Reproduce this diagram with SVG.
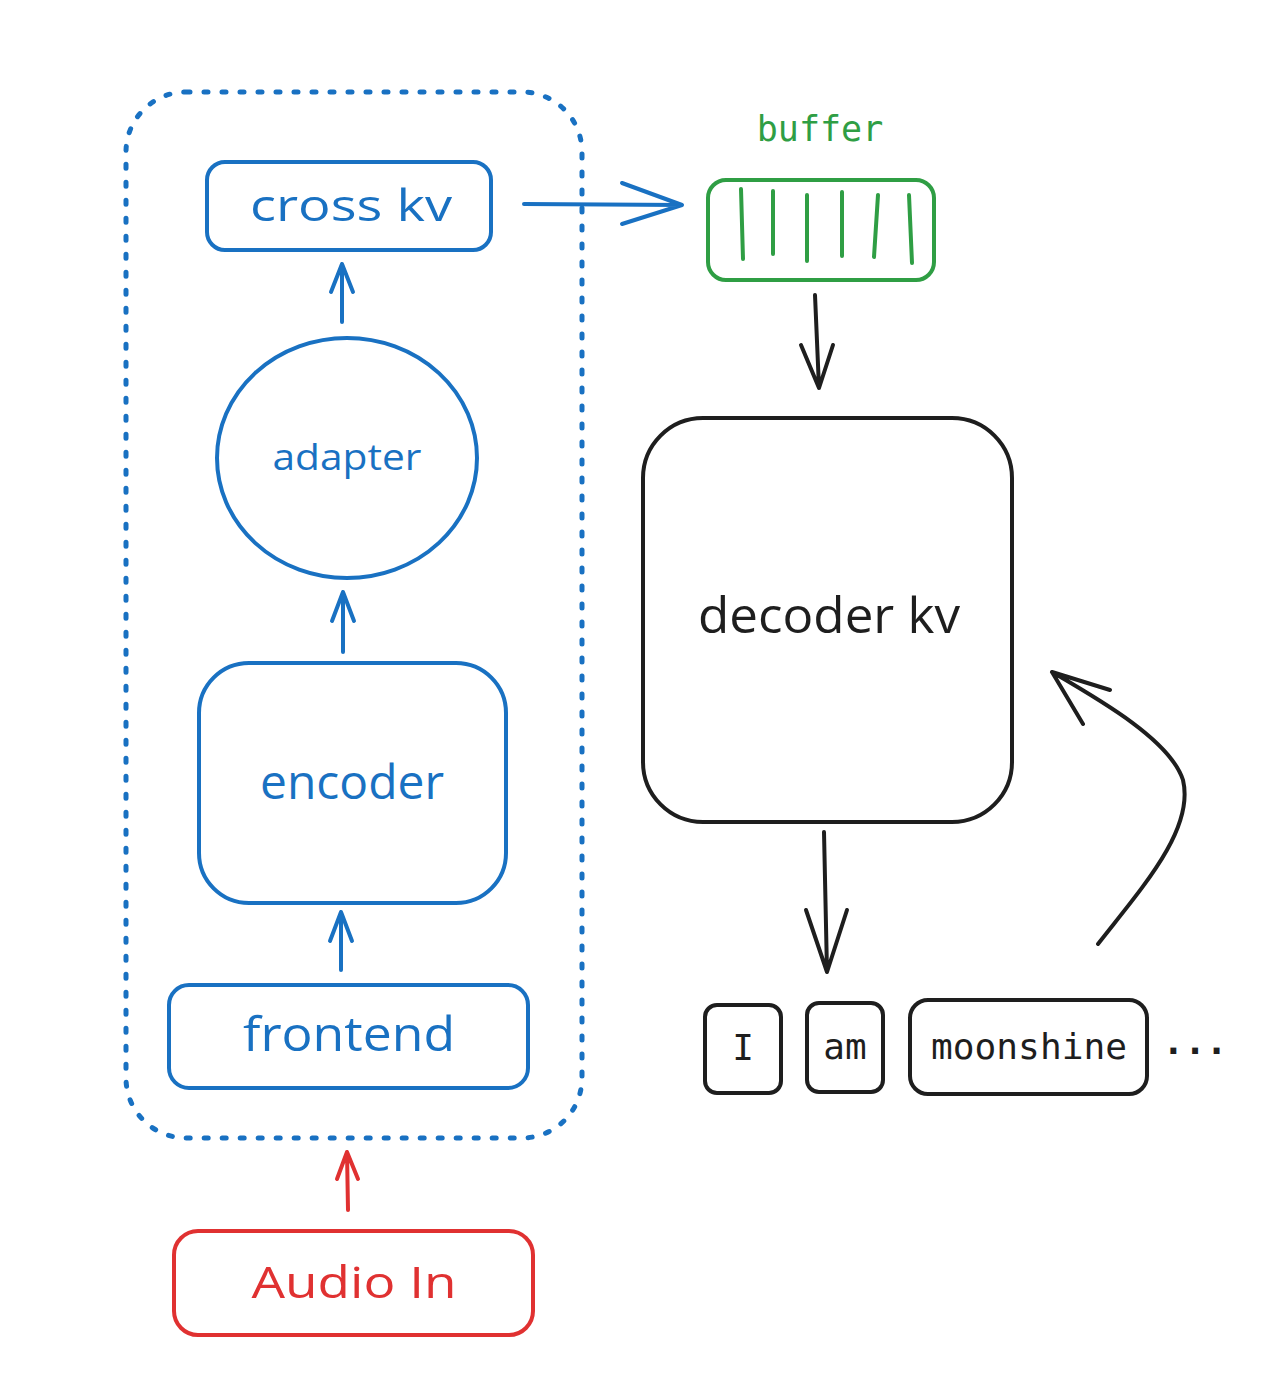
<svg xmlns="http://www.w3.org/2000/svg" width="1280" height="1395" viewBox="0 0 1280 1395">
<style>
.b{fill:none;stroke:#1971c2;stroke-width:4;stroke-linecap:round;stroke-linejoin:round}
.g{fill:none;stroke:#2f9e44;stroke-width:4;stroke-linecap:round;stroke-linejoin:round}
.r{fill:none;stroke:#e03131;stroke-width:4;stroke-linecap:round;stroke-linejoin:round}
.k{fill:none;stroke:#1e1e1e;stroke-width:4;stroke-linecap:round;stroke-linejoin:round}
.hand{font-family:"Open Sans","Liberation Sans",sans-serif;font-weight:500;text-anchor:middle;dominant-baseline:central}
.mono{font-family:"DejaVu Sans Mono","Liberation Mono",monospace;text-anchor:middle;dominant-baseline:central}
</style>
<rect width="1280" height="1395" fill="#ffffff"/>
<g id="container">
<rect x="126" y="92" width="456" height="1046" rx="60" fill="none" stroke="#1971c2" stroke-width="5" stroke-linecap="round" stroke-dasharray="4 14"/>
</g>
<g id="cross-kv">
<rect class="b" x="207" y="162" width="284" height="88" rx="18"/>
<text class="hand" x="351" y="204" font-size="44" fill="#1971c2" textLength="202" lengthAdjust="spacingAndGlyphs">cross kv</text>
</g>
<g id="adapter">
<ellipse class="b" cx="347" cy="458" rx="130" ry="120"/>
<text class="hand" x="347" y="456" font-size="36" fill="#1971c2" textLength="149" lengthAdjust="spacingAndGlyphs">adapter</text>
</g>
<g id="encoder">
<rect class="b" x="199" y="663" width="307" height="240" rx="50"/>
<text class="hand" x="352" y="780" font-size="48" fill="#1971c2" textLength="184" lengthAdjust="spacingAndGlyphs">encoder</text>
</g>
<g id="frontend">
<rect class="b" x="169" y="985" width="359" height="103" rx="20"/>
<text class="hand" x="349" y="1032" font-size="48" fill="#1971c2" textLength="212" lengthAdjust="spacingAndGlyphs">frontend</text>
</g>
<g id="audio-in">
<rect class="r" x="174" y="1231" width="359" height="104" rx="24"/>
<text class="hand" x="354" y="1281" font-size="44" fill="#e03131" textLength="205" lengthAdjust="spacingAndGlyphs">Audio In</text>
</g>
<g id="buffer">
<text class="mono" x="820" y="129" font-size="35" fill="#2f9e44">buffer</text>
<rect class="g" x="708" y="180" width="226" height="100" rx="18"/>
<path class="g" d="M741 189 L743 259 M773 191 L773 254 M807 195 L807 261 M842 192 L842 256 M878 195 L874 257 M909 195 L912 263"/>
</g>
<g id="decoder-kv">
<rect class="k" x="643" y="418" width="369" height="404" rx="60"/>
<text class="hand" x="829" y="614" font-size="50" fill="#1e1e1e" textLength="262" lengthAdjust="spacingAndGlyphs">decoder kv</text>
</g>
<g id="token-i">
<rect class="k" x="705" y="1005" width="76" height="88" rx="12"/>
<text class="mono" x="743" y="1047" font-size="36" fill="#1e1e1e">I</text>
</g>
<g id="token-am">
<rect class="k" x="807" y="1003" width="76" height="89" rx="12"/>
<text class="mono" x="845" y="1046" font-size="36" fill="#1e1e1e">am</text>
</g>
<g id="token-moonshine">
<rect class="k" x="910" y="1000" width="237" height="94" rx="18"/>
<text class="mono" x="1029" y="1046" font-size="36" fill="#1e1e1e" textLength="196" lengthAdjust="spacingAndGlyphs">moonshine</text>
</g>
<g id="ellipsis">
<text class="mono" x="1195" y="1041" font-size="36" font-weight="bold" fill="#1e1e1e">...</text>
</g>
<g id="connectors">
<path class="b" d="M342 322 L342 264 M331 292 L342 264 L353 292"/>
<path class="b" d="M343 652 L343 592 M332 621 L343 592 L354 621"/>
<path class="b" d="M341 970 L341 912 M330 941 L341 912 L352 941"/>
<path class="r" d="M348 1210 L347 1152 M337 1179 L347 1152 L358 1179"/>
<path class="b" d="M524 204 L682 205 M622 183 L682 205 L622 224" stroke-width="4.5"/>
<path class="k" d="M815 295 L819 388 M801 345 L819 388 L833 345"/>
<path class="k" d="M824 832 L827 972 M806 910 L827 972 L847 910"/>
<path class="k" d="M1098 944 C1140 890 1195 830 1183 780 C1170 740 1100 700 1052 672 M1110 690 L1052 672 L1083 724"/>
</g>
</svg>
